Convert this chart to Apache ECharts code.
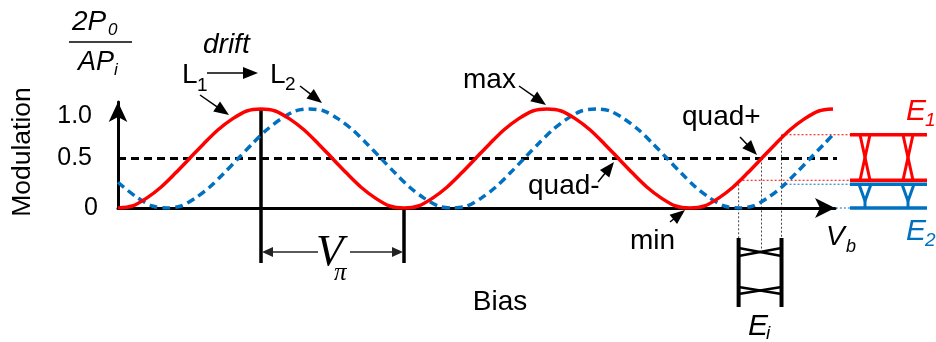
<!DOCTYPE html>
<html>
<head>
<meta charset="utf-8">
<script src="https://cdn.jsdelivr.net/npm/echarts@6/dist/echarts.min.js"></script>
<style>
  html, body { margin: 0; padding: 0; background: #fff; }
  #c { width: 936px; height: 342px; }
</style>
</head>
<body>
<div id="c"></div>
<script>
// Bias in units of V_pi; modulation normalised to 2P0/(A*Pi)
const redBias = [0, 0.1, 0.2, 0.3, 0.4, 0.5, 0.6, 0.7, 0.8, 0.9,
  1.0, 1.1, 1.2, 1.3, 1.4, 1.5, 1.6, 1.7, 1.8, 1.9,
  2.0, 2.1, 2.2, 2.3, 2.4, 2.5, 2.6, 2.7, 2.8, 2.9,
  3.0, 3.1, 3.2, 3.3, 3.4, 3.5, 3.6, 3.7, 3.8, 3.9,
  4.0, 4.1, 4.2, 4.3, 4.4, 4.5, 4.6, 4.7, 4.8, 4.9, 5.0];
const redMod = [0, .02, .10, .21, .35, .50, .65, .79, .90, .98,
  1, .98, .90, .79, .65, .50, .35, .21, .10, .02,
  0, .02, .10, .21, .35, .50, .65, .79, .90, .98,
  1, .98, .90, .79, .65, .50, .35, .21, .10, .02,
  0, .02, .10, .21, .35, .50, .65, .79, .90, .98, 1];

const blueBias = [0, 0.04, 0.14, 0.24, 0.34, 0.44, 0.54, 0.64, 0.74, 0.84, 0.94,
  1.04, 1.14, 1.24, 1.34, 1.44, 1.54, 1.64, 1.74, 1.84, 1.94,
  2.04, 2.14, 2.24, 2.34, 2.44, 2.54, 2.64, 2.74, 2.84, 2.94,
  3.04, 3.14, 3.24, 3.34, 3.44, 3.54, 3.64, 3.74, 3.84, 3.94,
  4.04, 4.14, 4.24, 4.34, 4.44, 4.54, 4.64, 4.74, 4.84, 4.94, 5.0];
const blueMod = [.26, .21, .10, .02, 0, .02, .10, .21, .35, .50, .65,
  .79, .90, .98, 1, .98, .90, .79, .65, .50, .35,
  .21, .10, .02, 0, .02, .10, .21, .35, .50, .65,
  .79, .90, .98, 1, .98, .90, .79, .65, .50, .35,
  .21, .10, .02, 0, .02, .10, .21, .35, .50, .65, .74];

const yTickValues = [0, 0.5, 1.0];
const yTickLabels = ['0', '0.5', '1.0'];

const quadLevel = 0.5;          // quadrature reference level
const quadLineEnd = 5.08;       // bias where the dashed level stops
const vPiMarks = [1, 2];        // one V_pi span between max and min
const biasWindow = [4.34, 4.64];// bias swing around quad+
const quadPlus = [4.5, 0.5];
const e1Levels = [0.74, 0.28];  // red output levels
const e2Levels = [0.24, 0];     // blue output levels

const RED = '#FF0000';
const BLUE = '#0070C0';
const SANS = 'Liberation Sans, Arial, sans-serif';
const SERIF = 'Liberation Serif, Times New Roman, serif';

const chart = echarts.init(document.getElementById('c'), null, { renderer: 'canvas' });

const pairs = (xs, ys) => xs.map((x, i) => [x, ys[i]]);
const tickStyle = (pad) => ({ fontSize: 25, fontFamily: SANS, color: '#000', padding: pad });

chart.setOption({
  animation: false,
  grid: { left: 118, right: 101, top: 102, bottom: 134 },
  xAxis: {
    type: 'value', min: 0, max: 5.014,
    axisLine: { show: true, lineStyle: { color: '#000', width: 3 }, symbol: ['none', 'arrow'], symbolSize: [15, 20] },
    axisTick: { show: false }, axisLabel: { show: false }, splitLine: { show: false }
  },
  yAxis: {
    type: 'value', min: 0, max: 1.0707, interval: 0.5,
    axisLine: { show: true, lineStyle: { color: '#000', width: 3 }, symbol: ['none', 'arrow'], symbolSize: [14, 20] },
    axisTick: { show: false }, splitLine: { show: false },
    axisLabel: {
      showMaxLabel: false, margin: 20,
      formatter: function (v) {
        const i = yTickValues.indexOf(v);
        if (i < 0) return '';
        const key = v === 1 ? 'hi' : (v === 0 ? 'z' : 'm');
        return '{' + key + '|' + yTickLabels[i] + '}';
      },
      rich: { hi: tickStyle([14, 6, 0, 0]), m: tickStyle([0, 6, 0, 0]), z: tickStyle([0, 0, 0, 0]) }
    }
  },
  series: [
    {
      type: 'line', data: [[0, quadLevel], [quadLineEnd, quadLevel]], clip: false,
      showSymbol: false, silent: true,
      lineStyle: { color: '#000', width: 3, type: [8, 5] }
    },
    {
      type: 'line', data: pairs(blueBias, blueMod), showSymbol: false, smooth: 0.3, silent: true,
      lineStyle: { color: BLUE, width: 3.5, type: [8, 5] }
    },
    {
      type: 'line', data: pairs(redBias, redMod), showSymbol: false, smooth: 0.3, silent: true,
      lineStyle: { color: RED, width: 3.5 }
    }
  ]
});

// ---- annotations ----
const P = (x, y) => chart.convertToPixel({ gridIndex: 0 }, [x, y]);
const g = [];

function line(x1, y1, x2, y2, color, w, dash) {
  g.push({ type: 'line', silent: true, shape: { x1, y1, x2, y2 },
    style: { stroke: color, lineWidth: w, lineDash: dash || null } });
}
function arrow(x1, y1, x2, y2, len, hw, w, color) {
  const dx = x2 - x1, dy = y2 - y1, d = Math.hypot(dx, dy);
  const ux = dx / d, uy = dy / d;
  const bx = x2 - ux * len, by = y2 - uy * len;
  line(x1, y1, bx + ux, by + uy, color, w);
  g.push({ type: 'polygon', silent: true,
    shape: { points: [[x2, y2], [bx - uy * hw, by + ux * hw], [bx + uy * hw, by - ux * hw]] },
    style: { fill: color } });
}
function text(x, y, str, size, opt) {
  opt = opt || {};
  g.push({ type: 'text', silent: true, x, y, rotation: opt.rotation || 0,
    style: { text: str, fontSize: size, fontFamily: opt.family || SANS,
      fontStyle: opt.italic ? 'italic' : 'normal', fill: opt.color || '#000',
      align: opt.align || 'left', verticalAlign: 'middle' } });
}

// axis title as a fraction
text(72, 22.6, '2P', 28, { italic: true });
text(108, 30.5, '0', 17, { italic: true });
line(69, 42, 132, 42, '#000', 1.5);
text(78, 62.6, 'AP', 27, { italic: true });
text(114, 70, 'i', 17, { italic: true });
text(23, 152, 'Modulation', 26.5, { align: 'center', rotation: Math.PI / 2 });

// drift L1 -> L2
text(203, 45.3, 'drift', 28, { italic: true });
text(182, 75.3, 'L', 28); text(197, 86, '1', 19);
text(270, 75.3, 'L', 28); text(285, 85, '2', 19);
arrow(207, 73, 258, 73, 15, 6, 1.5, '#000');
arrow(200, 95, 229, 115, 15, 6, 1.5, '#000');
arrow(300, 86, 322, 103, 15, 6, 1.5, '#000');

// operating points
text(463, 80.3, 'max', 28);
arrow(519, 86, 546, 105, 15, 6, 1.5, '#000');
text(528, 186, 'quad-', 28);
arrow(598, 182, 614, 162, 15, 6, 1.5, '#000');
text(682, 117, 'quad+', 28);
arrow(740, 137, 757, 155, 15, 6, 1.5, '#000');
text(630, 241, 'min', 28);
arrow(670, 222, 685, 210, 15, 6, 1.5, '#000');

text(500, 302, 'Bias', 28, { align: 'center' });
text(826, 237, 'V', 28, { italic: true });
text(846, 247, 'b', 18, { italic: true });

// V_pi span
const pk = P(vPiMarks[0], redMod[redBias.indexOf(vPiMarks[0])]);
const mn = P(vPiMarks[1], 0);
line(pk[0], pk[1], pk[0], 263, '#000', 3.5);
line(mn[0], mn[1], mn[0], 263, '#000', 3.5);
arrow(318, 252, pk[0] + 1, 252, 11, 5, 1.5, '#222');
arrow(350, 252, mn[0] - 1, 252, 11, 5, 1.5, '#222');
text(316, 252.8, 'V', 45, { italic: true, family: SERIF });
text(334, 273, 'π', 25, { italic: true, family: SERIF });

// projection of the bias swing onto the output levels
const xL = 850, xR = 927;
const w0 = P(biasWindow[0], e1Levels[1]);
const w1 = P(biasWindow[1], e1Levels[0]);
const q = P(quadPlus[0], quadPlus[1]);
const b1 = P(biasWindow[1], e2Levels[0]);
const b0 = P(quadLineEnd - 0.06, e2Levels[1]);
line(w1[0], w1[1], xL, w1[1], RED, 1, [2, 2]);
line(w0[0], w0[1], xL, w0[1], RED, 1, [2, 2]);
line(b1[0], b1[1], xL, b1[1], BLUE, 1, [2, 2]);
line(b0[0], b0[1], xL, b0[1], BLUE, 1, [2, 2]);
line(w0[0], w0[1], w0[0], 238, '#444', 1, [2, 2]);
line(q[0], q[1], q[0], 250, '#444', 1, [2, 2]);
line(w1[0], w1[1], w1[0], 238, '#444', 1, [2, 2]);

// input swing E_i
line(w0[0], 238, w0[0], 307, '#000', 4);
line(w1[0], 238, w1[0], 307, '#000', 4);
line(w0[0], 248, w1[0], 256, '#000', 2.5);
line(w0[0], 256, w1[0], 248, '#000', 2.5);
line(w0[0], 287, w1[0], 294, '#000', 2.5);
line(w0[0], 294, w1[0], 287, '#000', 2.5);
text(748, 326.6, 'E', 30, { italic: true });
text(766, 334, 'i', 19, { italic: true });

// output swings E1 (red) and E2 (blue)
const r0 = w1[1], r1 = w0[1], c0 = b1[1], c1 = b0[1];
line(xL, r0, xR, r0, RED, 3.5);
line(xL, r1, xR, r1, RED, 3.5);
line(xL, c0, xR, c0, BLUE, 3.5);
line(xL, c1, xR, c1, BLUE, 3.5);
[865, 908].forEach(function (cx) {
  line(cx - 5, r0, cx + 5, r1, RED, 3);
  line(cx + 5, r0, cx - 5, r1, RED, 3);
  line(cx - 6, c0, cx, c1 - 7, BLUE, 3);
  line(cx + 6, c0, cx, c1 - 7, BLUE, 3);
  line(cx, c1 - 7, cx, c1, BLUE, 3);
});
text(906, 111.6, 'E', 30, { italic: true, color: RED });
text(925, 121, '1', 19, { italic: true, color: RED });
text(906, 231.6, 'E', 30, { italic: true, color: BLUE });
text(925, 241, '2', 19, { italic: true, color: BLUE });

chart.setOption({ graphic: { elements: g } });
</script>
</body>
</html>
